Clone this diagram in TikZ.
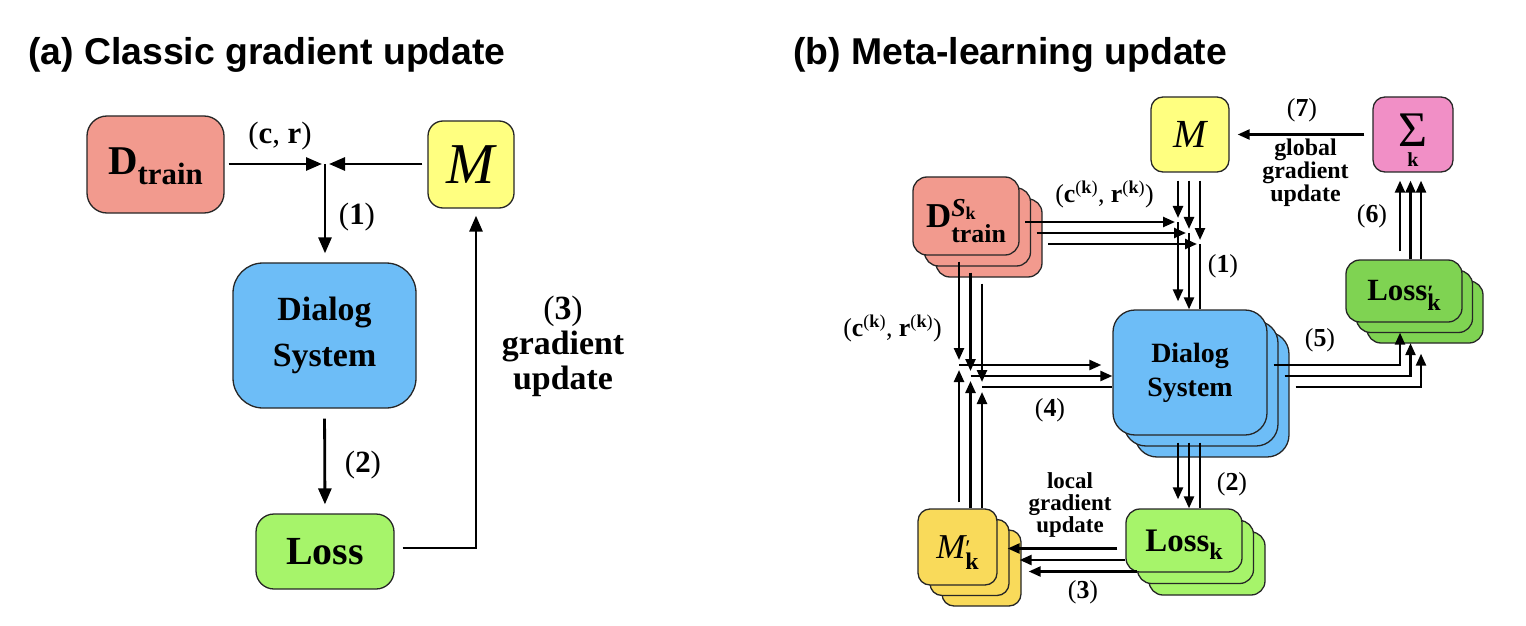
\documentclass[tikz,border=0pt]{standalone}
\usepackage{fontspec}
\setmainfont{Liberation Serif}
\newfontfamily\headfont{Liberation Sans}
\usetikzlibrary{arrows.meta,calc}

\definecolor{datared}{HTML}{F29A8E}
\definecolor{modelyellow}{HTML}{FFFF80}
\definecolor{localyellow}{HTML}{F9DA5A}
\definecolor{dialogblue}{HTML}{6DBDF7}
\definecolor{losslight}{HTML}{A6F46A}
\definecolor{lossdark}{HTML}{7FD352}
\definecolor{sumpink}{HTML}{F18FC6}

\tikzset{
  title/.style={anchor=base west, inner sep=0pt, font=\headfont\bfseries\fontsize{37.5}{40}\selectfont},
  card/.style={draw=black!85, line width=1.3bp, inner sep=0pt, font=\bfseries},
  % left picture
  trainA/.style={card, fill=datared, minimum width=137bp, minimum height=97bp, rounded corners=20bp},
  modelA/.style={card, fill=modelyellow, minimum width=86bp, minimum height=87bp, rounded corners=15bp},
  dialogA/.style={card, fill=dialogblue, minimum width=183bp, minimum height=145bp, rounded corners=30bp,
    align=center, font=\bfseries\fontsize{34}{46}\selectfont},
  lossA/.style={card, fill=losslight, minimum width=138bp, minimum height=75bp, rounded corners=18bp},
  arrA/.style={line width=2.8bp, -{Triangle[length=16bp,width=13bp]}},
  lblA/.style={inner sep=0pt, font=\fontsize{31}{31}\selectfont},
  % right picture
  trainB/.style={card, fill=datared, minimum width=106bp, minimum height=78bp, rounded corners=14bp},
  modelB/.style={card, fill=modelyellow, minimum width=78bp, minimum height=75bp, rounded corners=12bp},
  sumB/.style={card, fill=sumpink, minimum width=80bp, minimum height=75bp, rounded corners=12bp},
  dialogB/.style={card, fill=dialogblue, minimum width=154bp, minimum height=125bp, rounded corners=22bp,
    align=center, font=\bfseries\fontsize{28}{34}\selectfont},
  lossB/.style={card, fill=losslight, minimum width=116bp, minimum height=63bp, rounded corners=14bp},
  losspB/.style={card, fill=lossdark, minimum width=116bp, minimum height=62bp, rounded corners=14bp},
  localB/.style={card, fill=localyellow, minimum width=79bp, minimum height=76bp, rounded corners=12bp},
  arrB/.style={line width=2.4bp, -{Triangle[length=12bp,width=10bp]}},
  lineB/.style={line width=2.4bp},
  lblB/.style={inner sep=0pt, font=\fontsize{26}{26}\selectfont},
}

\begin{document}
\begin{tikzpicture}[x=1bp, y=-1bp]
\useasboundingbox (0,0) rectangle (1526,626);

% ===== (a) Classic gradient update =====
\node[title] (titleA) at (28,65) {(a) Classic gradient update};

% boxes
\node[trainA] (dtrA) at (155.5,164.5)
  {\fontsize{41}{41}\selectfont D\smash{\raisebox{-10bp}{\fontsize{31}{31}\selectfont train}}\rule[-7bp]{0pt}{7bp}};
\node[modelA] (mA) at (471,164.5) {\fontsize{58}{58}\selectfont\mdseries\itshape M};
\node[dialogA] (dsA) at (324.5,335.5) {Dialog\\System};
\node[lossA] (lsA) at (325,551.5) {\fontsize{40}{40}\selectfont Loss};
\coordinate (jA) at (325,164);
\coordinate (cA) at (476,548);

% connectors
\draw[arrA, shorten <=4bp, shorten >=3bp] (dtrA.east |- jA) -- (jA);
\draw[arrA, shorten <=5bp, shorten >=4bp] (mA.west |- jA) -- (jA);
\draw[arrA, shorten >=9bp] (jA) -- (jA |- dsA.north);
\draw[arrA, shorten <=10bp, shorten >=9bp] (dsA.south) -- (lsA.north);
\draw[arrA, shorten <=8bp, shorten >=7bp] (lsA.east |- cA) -- (cA) -- (cA |- mA.south);

% labels
\node[lblA] (crA) at (280,136) {(\textbf{c}, \textbf{r})};
\node[lblA] (stepA1) at (357,217.5) {(\textbf{1})};
\node[lblA] (stepA2) at (363,465) {(\textbf{2})};
\node[lblA, align=center, font=\fontsize{34}{35}\selectfont] (stepA3) at (563,346)
  {(\textbf{3})\\\textbf{gradient}\\\textbf{update}};

% ===== (b) Meta-learning update =====
\node[title] (titleB) at (793,65) {(b) Meta-learning update};

% single boxes
\node[modelB] (mB) at (1190,134.5) {\fontsize{40}{40}\selectfont\mdseries\itshape M};
\node[sumB, text height=25bp, text depth=0bp] (sg) at (1413,134.5)
  {\ooalign{\fontsize{50}{50}\selectfont\mdseries Σ\cr\hidewidth\smash{\raisebox{-20bp}{\fontsize{20}{20}\selectfont k}}\hidewidth\cr}};

% stacked boxes, back to front
\foreach \i/\o in {3/2,2/1}
  \node[trainB] (dk\i) at ($(966,216)+(11.5*\o,11*\o)$) {};
\node[trainB] (dk1) at (966,216)
  {\fontsize{35}{35}\selectfont D\ooalign{\smash{\raisebox{11bp}{\fontsize{26}{26}\selectfont\itshape S\raisebox{-3bp}{\fontsize{18}{18}\selectfont\upshape k}}}\cr
   \smash{\raisebox{-15bp}{\fontsize{26}{26}\selectfont train}}\cr}};

\foreach \i/\o in {3/22,2/11}
  \node[dialogB] (ds\i) at ($(1190,372.5)+(\o,\o)$) {};
\node[dialogB] (ds1) at (1190,372.5) {Dialog\\System};

\foreach \i/\o in {3/21,2/10.5}
  \node[losspB] (lp\i) at ($(1404,291)+(\o,\o)$) {};
\node[losspB] (lp1) at (1404,291)
  {\fontsize{31}{31}\selectfont Loss\ooalign{\smash{\fontsize{22}{22}\selectfont ′}\cr\smash{\raisebox{-10bp}{\fontsize{24}{24}\selectfont k}}\cr}};

\foreach \i/\o in {3/23,2/11.5}
  \node[lossB] (lk\i) at ($(1184,540.5)+(\o,\o)$) {};
\node[lossB] (lk1) at (1184,540.5)
  {\fontsize{33}{33}\selectfont Loss\smash{\raisebox{-8bp}{\fontsize{24}{24}\selectfont k}}};

\foreach \i/\ox/\oy in {3/24/21,2/12/10.5}
  \node[localB] (mk\i) at ($(957.5,547)+(\ox,\oy)$) {};
\node[localB] (mk1) at (957.5,547)
  {\fontsize{35}{35}\selectfont\mdseries\itshape M\ooalign{\smash{\raisebox{2bp}{\fontsize{24}{24}\selectfont\upshape ′}}\cr\smash{\raisebox{-11bp}{\fontsize{24}{24}\selectfont\bfseries\upshape k}}\cr}};

% junctions and corners
\foreach \i in {1,2,3} {
  \coordinate (jt\i) at ($(ds\i |- dk\i)+(-12,6)$);
  \coordinate (jl\i) at ($(dk\i |- ds\i)+(-7,-7.5)$);
  \coordinate (cp\i) at ($(lp\i |- jl\i)+(-4,0)$);
  \coordinate (ym\i) at ($(lk\i)+(0,8)$);
}

% (1) data and model meet, (5) dialog to second loss
\foreach \i in {1,2,3} {
  \draw[arrB, shorten <=5.5bp, shorten >=3bp] (dk\i.east |- jt\i) -- (jt\i);
  \draw[arrB, shorten <=8bp, shorten >=4bp] (mB.south -| jt\i) -- (jt\i);
  \draw[arrB, shorten <=6bp, shorten >=5bp] (dk\i.south -| jl\i) -- (jl\i);
  \draw[arrB, shorten <=6bp, shorten >=10bp] (ds\i.east |- cp\i) -- (cp\i) -- (cp\i |- lp\i.south);
}
\draw[arrB, shorten >=8bp] (jt1) -- (jt1 |- ds1.north);
\draw[arrB] (jt2) -- (jt2 |- ds1.north);
\draw[lineB] (jt3) -- (jt3 |- ds1.north);

% (2) dialog to loss
\draw[arrB, shorten <=7bp, shorten >=9bp] (ds1.south -| jt1) -- (lk1.north -| jt1);
\draw[arrB, shorten <=7bp] (ds1.south -| jt2) -- (lk1.north -| jt2);
\draw[lineB, shorten <=7bp] (ds1.south -| jt3) -- (lk1.north -| jt3);

% (3) local gradient update
\draw[arrB, shorten <=8bp, shorten >=10bp] (lk1.west |- ym1) -- (mk1.east |- ym1);
\draw[arrB, shorten >=10bp] (lk1.west |- ym2) -- (mk2.east |- ym2);
\draw[arrB, shorten >=7bp] (lk2.west |- ym3) -- (mk3.east |- ym3);

% local models up to left junctions
\draw[arrB, shorten <=6bp, shorten >=5bp] (mk1.north -| jl1) -- (jl1);
\draw[arrB, shorten >=5bp] (mk1.north -| jl2) -- (jl2);
\draw[arrB, shorten >=5bp] (mk1.north -| jl3) -- (jl3);

% (4) left junctions to dialog
\draw[arrB, shorten >=11bp] (jl1) -- (jl1 -| ds1.west);
\draw[arrB] (jl2) -- (jl2 -| ds1.west);
\draw[lineB] (jl3) -- (jl3 -| ds1.west);

% (6) second loss to sum
\draw[arrB, shorten <=8bp, shorten >=8bp] (lp1.north -| cp1) -- (sg.south -| cp1);
\draw[arrB, shorten >=8bp] (lp1.north -| cp2) -- (sg.south -| cp2);
\draw[arrB, shorten >=8bp] (lp1.north -| cp3) -- (sg.south -| cp3);

% (7) global gradient update
\draw[arrB, shorten <=8bp, shorten >=8bp] (sg.west) -- (mB.east);

% labels
\node[lblB] (crtop) at (1104.5,194.5) {(\textbf{c}\textsuperscript{(\textbf{k})}, \textbf{r}\textsuperscript{(\textbf{k})})};
\node[lblB] (crleft) at (892.5,328) {(\textbf{c}\textsuperscript{(\textbf{k})}, \textbf{r}\textsuperscript{(\textbf{k})})};
\node[lblB] (stepB1) at (1223,266) {(\textbf{1})};
\node[lblB] (stepB2) at (1232,484) {(\textbf{2})};
\node[lblB] (stepB3) at (1083,592.5) {(\textbf{3})};
\node[lblB] (stepB4) at (1050,410) {(\textbf{4})};
\node[lblB] (stepB5) at (1320,340) {(\textbf{5})};
\node[lblB] (stepB6) at (1372,216.5) {(\textbf{6})};
\node[lblB] (stepB7) at (1302,110.5) {(\textbf{7})};
\node[lblB, align=center, font=\bfseries\fontsize{24}{21.5}\selectfont] (globup) at (1305.5,172.5) {global\\gradient\\update};
\node[lblB, align=center, font=\bfseries\fontsize{23}{22}\selectfont] (locup) at (1070,505) {local\\gradient\\update};

\end{tikzpicture}
\end{document}
